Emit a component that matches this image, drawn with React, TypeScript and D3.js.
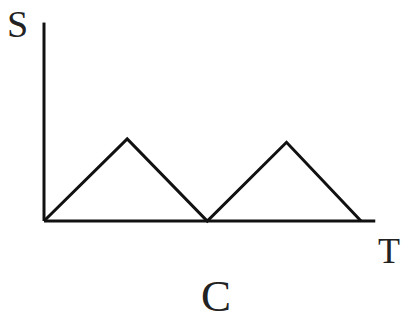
import React from 'react';
import * as d3 from 'd3';

// time points and displacement of the triangle wave
const tValues = [0, 1.05, 2.06, 3.06, 4];
const sValues = [0, 1, 0, 0.96, 0];
const axisLabels = ['S', 'T'];
const caption = 'C';

const W = 406;
const H = 320;
const origin = { x: 44, y: 221 };

const App = () => {
  const x = d3.scaleLinear().domain([0, 4]).range([origin.x, 361]);
  const y = d3.scaleLinear().domain([0, 1]).range([origin.y, 139]);

  const line = d3
    .line<number>()
    .x((_, i) => x(tValues[i]))
    .y((d) => y(d));

  const font = '"Liberation Serif", "Times New Roman", serif';

  return (
    <svg
      width={W}
      height={H}
      style={{ position: 'absolute', left: 0, top: 0, background: '#fff' }}
    >
      <line x1={origin.x} y1={origin.y} x2={origin.x} y2={y(2.42)} stroke="#111" strokeWidth={3} />
      <line x1={origin.x} y1={origin.y} x2={x(4.18)} y2={origin.y} stroke="#111" strokeWidth={3} />
      <path d={line(sValues) ?? ''} fill="none" stroke="#111" strokeWidth={3} strokeLinejoin="miter" />
      <text x={7} y={37} fontFamily={font} fontSize={38} fill="#222">
        {axisLabels[0]}
      </text>
      <text x={378} y={263} fontFamily={font} fontSize={36} fill="#222">
        {axisLabels[1]}
      </text>
      <text x={216} y={311} textAnchor="middle" fontFamily={font} fontSize={45} fill="#222">
        {caption}
      </text>
    </svg>
  );
};

export default App;
